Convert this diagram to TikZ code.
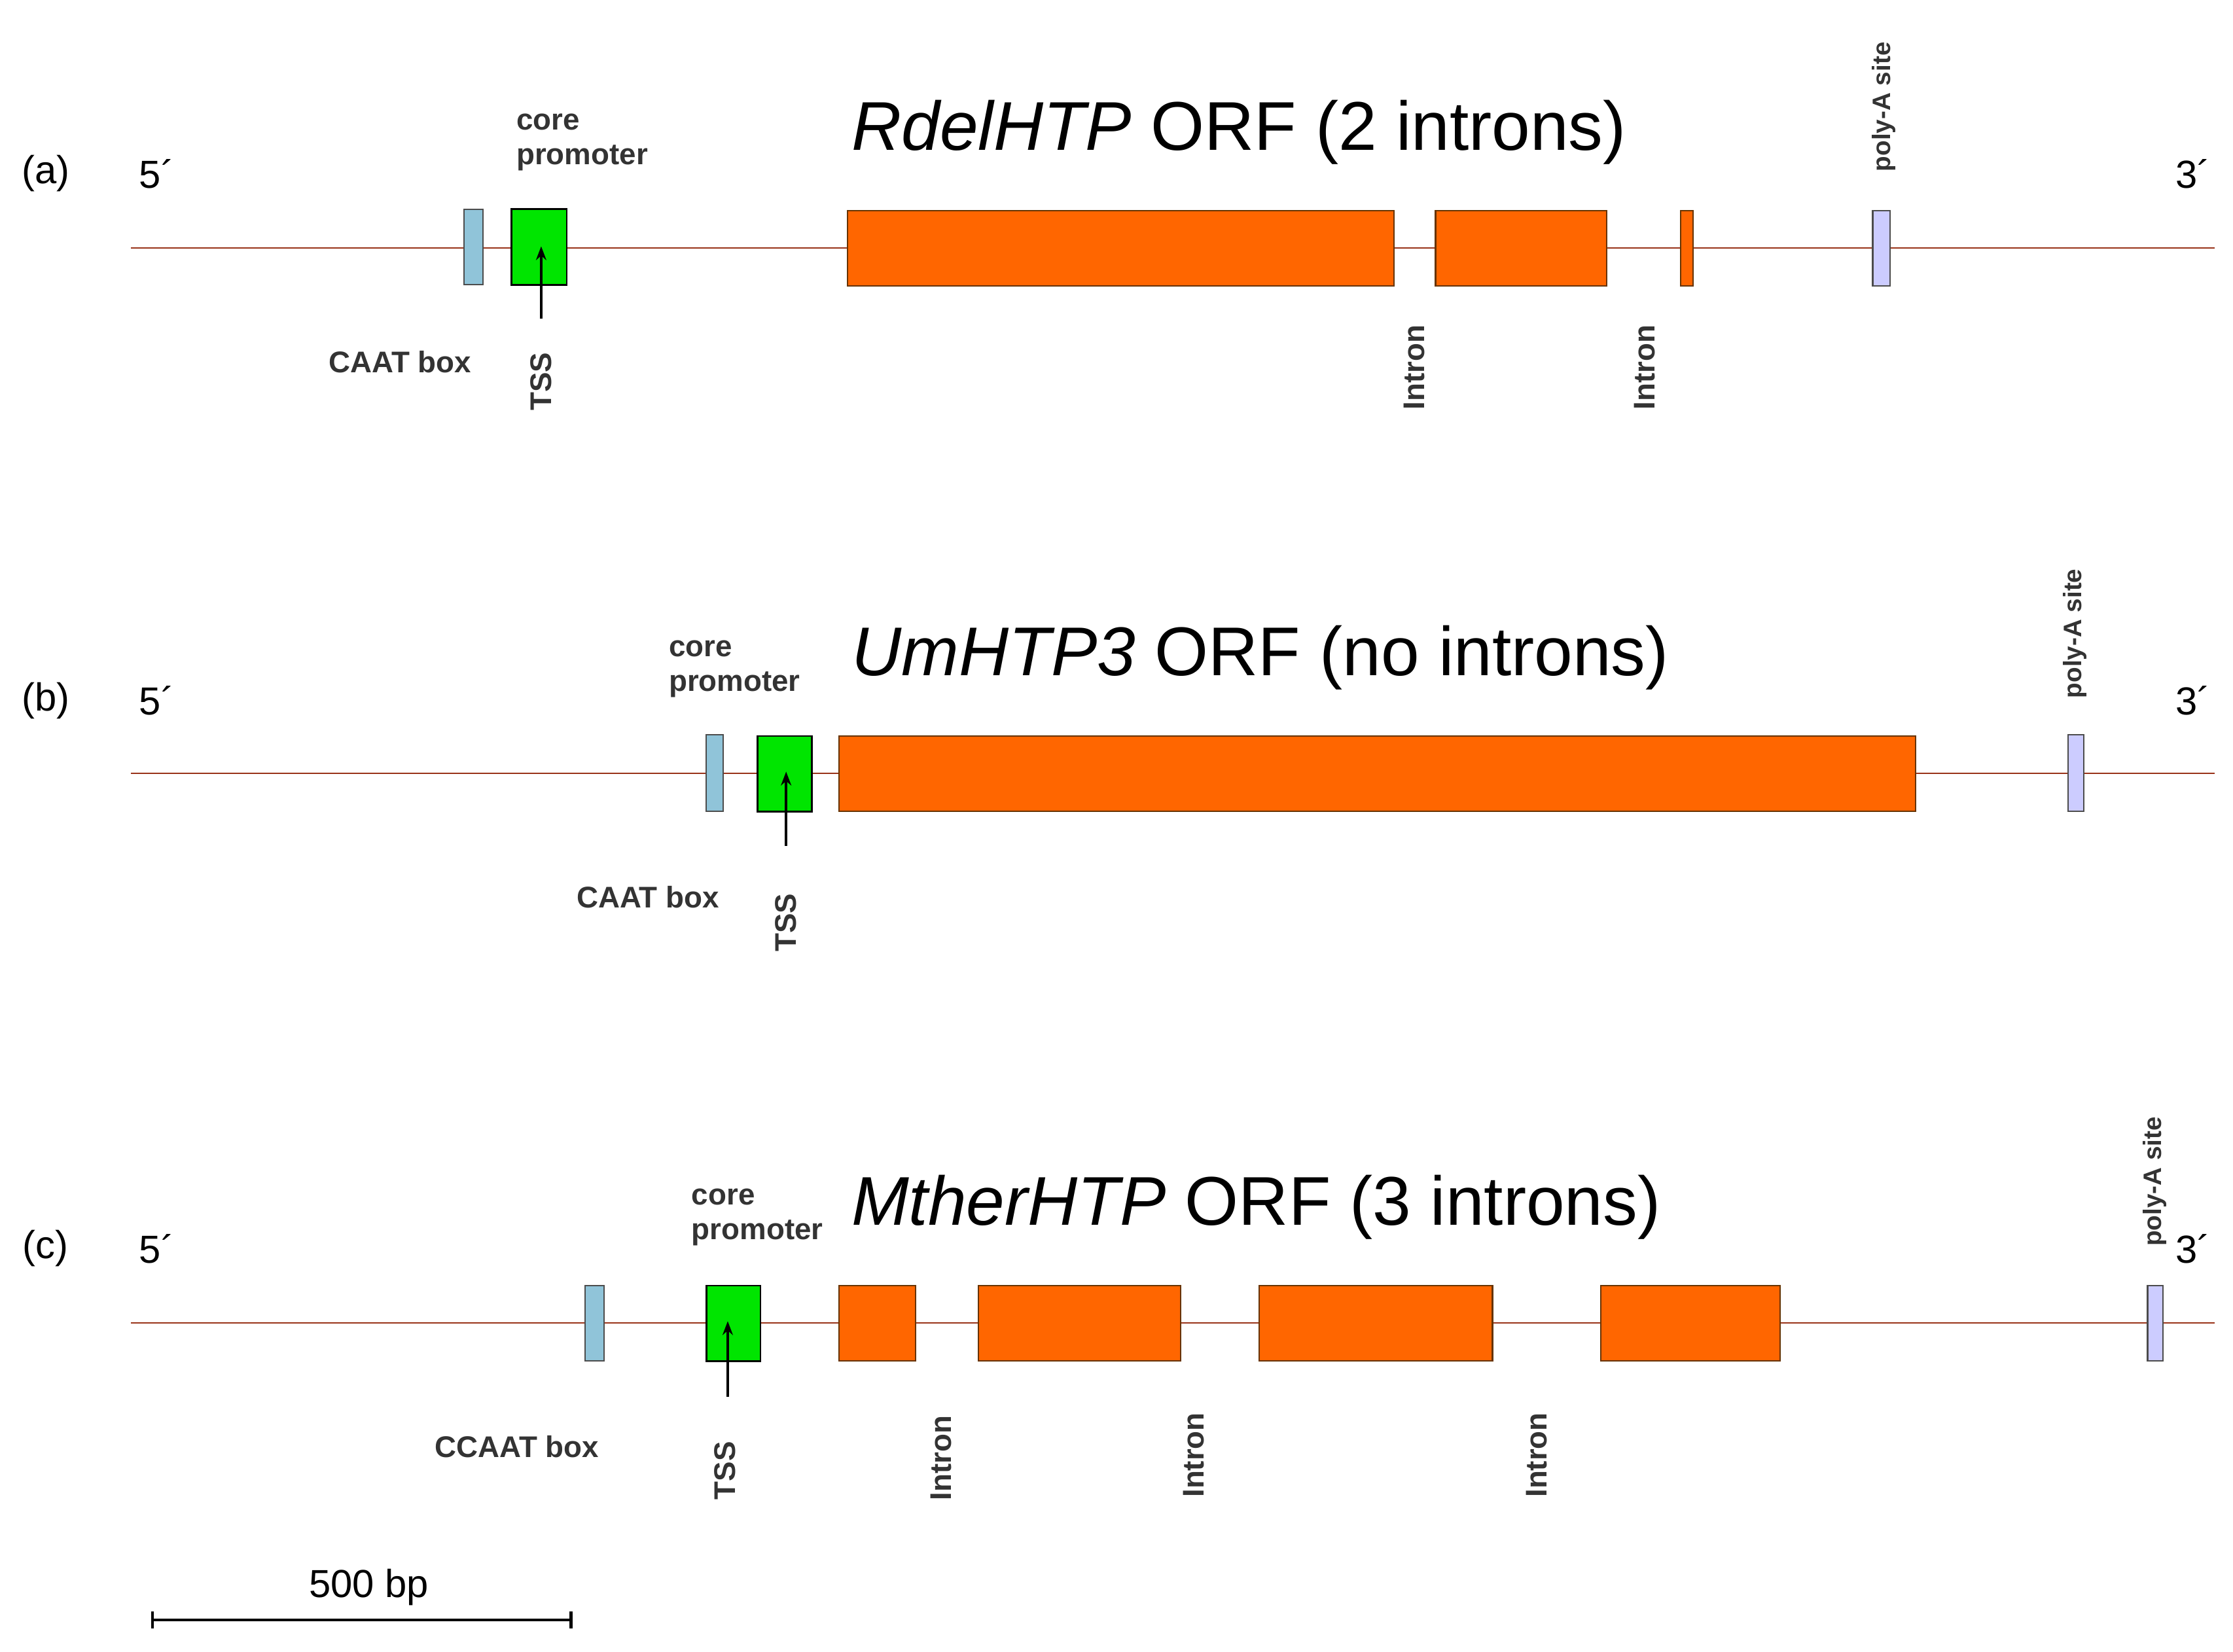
\documentclass[tikz,border=0pt]{standalone}
\usepackage{fontspec}
\setmainfont{Liberation Sans}
\usetikzlibrary{arrows.meta}
\begin{document}
\begin{tikzpicture}[x=0.02176cm,y=-0.02176cm,
 dna/.style={draw=black!50!red!60!brown,line width=0.6pt},
 caat/.style={draw=black!70,fill=cyan!40!teal!50!white,line width=0.6pt},
 prom/.style={draw=black,fill=green!90!black,line width=0.8pt},
 exon/.style={draw=black!60!orange,fill=orange!80!red,line width=0.6pt},
 polya/.style={draw=black!70,fill=blue!20!white,line width=0.6pt},
 tss/.style={-{Stealth[length=6pt]},line width=1.2pt},
 lab/.style={font=\fontsize{13}{13}\selectfont\bfseries,text=black!80},
 rlab/.style={lab,rotate=90},
 plab/.style={font=\fontsize{11}{11}\selectfont\bfseries,text=black!80,rotate=90},
 side/.style={font=\fontsize{17}{17}\selectfont},
 ttl/.style={font=\fontsize{30}{30}\selectfont},
 cp/.style={lab,align=left,anchor=west,font=\fontsize{13}{15}\selectfont\bfseries}]
\useasboundingbox (0,0) rectangle (1568,1160);
% row a
\coordinate (a0) at (92,174); \coordinate (a1) at (1555,174);
\draw[dna] (a0) -- (a1);
\draw[caat] (326,147) rectangle (339,200);
\draw[prom] (359,147) rectangle (398,200);
\draw[exon] (595,148) rectangle (979,201);
\draw[exon] (1008,148) rectangle (1128,201);
\draw[exon] (1180,148) rectangle (1189,201);
\draw[polya] (1315,148) rectangle (1327,201);
\coordinate (ta0) at (380,224); \coordinate (ta1) at (380,173);
\draw[tss] (ta0) -- (ta1);
\node[side] (la) at (32,122) {(a)};
\node[side] at (110,122) {5´};
\node[side] at (1540,122) {3´};
\node[cp] at (357,100) {core\\promoter};
\node[lab] at (281,254) {CAAT box};
\node[rlab] at (380,268) {TSS};
\node[rlab] at (993,258) {Intron};
\node[rlab] at (1155,258) {Intron};
\node[plab] at (1323,75) {poly-A site};
\node[ttl] at (870,93) {\textit{RdelHTP} ORF (2 introns)};
% row b
\draw[dna] (92,543) -- (1555,543);
\draw[caat] (496,516) rectangle (508,570);
\draw[prom] (532,517) rectangle (570,570);
\draw[exon] (589,517) rectangle (1345,570);
\draw[polya] (1452,516) rectangle (1463,570);
\draw[tss] (552,594) -- (552,542);
\node[side] at (32,492) {(b)};
\node[side] at (110,492) {5´};
\node[side] at (1540,492) {3´};
\node[cp] at (464,470) {core\\promoter};
\node[lab] at (455,630) {CAAT box};
\node[rlab] at (552,648) {TSS};
\node[plab] at (1457,445) {poly-A site};
\node[ttl] at (885,462) {\textit{UmHTP3} ORF (no introns)};
% row c
\draw[dna] (92,929) -- (1555,929);
\draw[caat] (411,903) rectangle (424,956);
\draw[prom] (496,903) rectangle (534,956);
\draw[exon] (589,903) rectangle (643,956);
\draw[exon] (687,903) rectangle (829,956);
\draw[exon] (884,903) rectangle (1048,956);
\draw[exon] (1124,903) rectangle (1250,956);
\draw[polya] (1508,903) rectangle (1519,956);
\draw[tss] (511,981) -- (511,928);
\node[side] at (32,877) {(c)};
\node[side] at (110,877) {5´};
\node[side] at (1540,877) {3´};
\node[cp] at (480,855) {core\\promoter};
\node[lab] at (363,1016) {CCAAT box};
\node[rlab] at (509,1033) {TSS};
\node[rlab] at (661,1024) {Intron};
\node[rlab] at (838,1022) {Intron};
\node[rlab] at (1079,1022) {Intron};
\node[plab] at (1513,830) {poly-A site};
\node[ttl] at (882,848) {\textit{MtherHTP} ORF (3 introns)};
% scale bar
\draw[line width=1.2pt] (107,1138) -- (401,1138);
\draw[line width=1.2pt] (107,1132) -- (107,1144) (401,1132) -- (401,1144);
\node[side] at (259,1115) {500 bp};
\end{tikzpicture}
\end{document}
